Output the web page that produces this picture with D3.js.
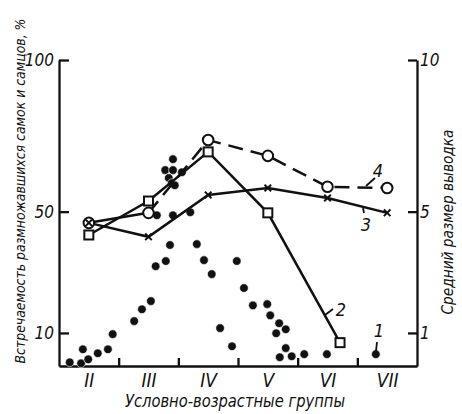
<!DOCTYPE html>
<html>
<head>
<meta charset="utf-8">
<script src="https://cdn.jsdelivr.net/npm/d3@7"></script>
<style>
  body { margin: 0; background: #fff; }
  text { font-family: "DejaVu Sans Condensed", "DejaVu Sans", sans-serif; font-stretch: condensed; font-style: oblique; fill: #111; }
</style>
</head>
<body>
<div id="chart-area"></div>
<script>
// SVG size
var width = 462,
	height = 414;

// age groups (x axis)
var groupValues = [2, 3, 4, 5, 6, 7];
var groupLabels = ["II", "III", "IV", "V", "VI", "VII"];
var groupBounds = [2.5, 3.5, 4.5, 5.5, 6.5];

// left axis (%) and right axis (brood size) ticks
var leftTicks = [10, 50, 100];
var rightTicks = [1, 5, 10];

// 1 - scattered points, % of breeding animals
var dotsX = [1.68, 1.87, 1.90, 1.99, 2.15, 2.32, 2.40, 2.76, 2.89, 3.04, 3.12, 3.29, 3.36,
	3.14, 3.41, 3.70, 3.41, 3.28, 3.41, 3.56, 3.34, 3.39, 3.44, 3.81, 3.93, 4.06, 4.20,
	4.40, 4.48, 4.60, 4.75, 4.99, 5.04, 5.19, 5.30, 5.14, 5.30, 5.20, 5.40, 5.61, 5.99, 6.81];
var dotsY = [0.3, 0.0, 4.6, 1.3, 3.3, 4.6, 9.6, 13.9, 17.8, 20.5, 32.0, 33.7, 39.0,
	48.8, 48.8, 49.8, 67.3, 63.7, 63.7, 63.0, 61.1, 59.4, 58.7, 39.3, 34.0, 29.4, 11.6,
	5.6, 33.7, 24.8, 19.1, 19.5, 15.8, 13.2, 11.2, 9.9, 5.0, 2.0, 2.3, 3.0, 3.0, 3.0];

// 2 - squares (%)
var line2X = [2, 3, 4, 5, 6.21];
var line2Y = [42.3, 53.5, 69.7, 49.6, 6.8];

// 3 - crosses, mean brood size
var line3X = [2, 3, 4, 5, 6, 7];
var line3Y = [4.63, 4.17, 5.55, 5.78, 5.45, 4.96];

// 4 - open circles (%)
var line4X = [2, 3, 4, 5, 6, 7];
var line4Y = [46.3, 49.6, 73.6, 68.4, 58.2, 57.8];

var svg = d3.select("#chart-area")
	.append("svg")
	.attr("width", width)
	.attr("height", height);

var x = d3.scaleLinear().domain([1.5, 7.5]).range([59, 417]);
var yLeft = d3.scaleLinear().domain([-0.9, 100]).range([366, 60]);
var yRight = d3.scaleLinear().domain([-0.09, 10]).range([366, 60]);

// axes
var leftAxis = d3.axisLeft(yLeft).tickValues(leftTicks).tickSizeInner(-10).tickSizeOuter(0).tickPadding(5);
var rightAxis = d3.axisRight(yRight).tickValues(rightTicks).tickSizeInner(-9).tickSizeOuter(0).tickPadding(3);
var bottomAxis = d3.axisBottom(x).tickValues(groupBounds).tickSizeInner(-8).tickSizeOuter(0).tickFormat("");
var labelAxis = d3.axisBottom(x).tickValues(groupValues).tickSize(0).tickPadding(8)
	.tickFormat(function (d, i) { return groupLabels[i]; });

var gl = svg.append("g").attr("transform", "translate(59,0)").call(leftAxis);
var gr = svg.append("g").attr("transform", "translate(417,0)").call(rightAxis);
var gb = svg.append("g").attr("transform", "translate(0,366)").call(bottomAxis);
var gx = svg.append("g").attr("transform", "translate(0,366)").call(labelAxis);
gx.select(".domain").remove();

[gl, gr, gb].forEach(function (g) {
	g.selectAll("path, line").attr("stroke", "#111").attr("stroke-width", 2.3);
	g.selectAll("text").attr("font-size", 17);
});
gx.selectAll("text").attr("font-size", 19).attr("fill", "#111");
svg.selectAll("g").attr("font-family", null);

// series 1 dots
svg.append("g").selectAll("circle").data(dotsX).enter()
	.append("circle")
	.attr("cx", function (d) { return x(d); })
	.attr("cy", function (d, i) { return yLeft(dotsY[i]); })
	.attr("r", 4.3)
	.attr("fill", "#111")
	.attr("stroke", "#fff")
	.attr("stroke-width", 0.6);

var line = function (xs, ys, sy) {
	return d3.line()
		.x(function (d, i) { return x(xs[i]); })
		.y(function (d, i) { return sy(ys[i]); })(ys);
};

// line 4 : solid II-III, dashed further
svg.append("path")
	.attr("d", line(line4X.slice(0, 2), line4Y.slice(0, 2), yLeft))
	.attr("fill", "none").attr("stroke", "#111").attr("stroke-width", 2.5);
svg.append("path")
	.attr("d", line(line4X.slice(1), line4Y.slice(1), yLeft))
	.attr("fill", "none").attr("stroke", "#111").attr("stroke-width", 2.5)
	.attr("stroke-dasharray", "15,8");

// line 3
svg.append("path")
	.attr("d", line(line3X, line3Y, yRight))
	.attr("fill", "none").attr("stroke", "#111").attr("stroke-width", 2.5);

// line 2
svg.append("path")
	.attr("d", line(line2X, line2Y, yLeft))
	.attr("fill", "none").attr("stroke", "#111").attr("stroke-width", 2.5);

// markers
svg.append("g").selectAll("rect").data(line2X).enter()
	.append("rect")
	.attr("x", function (d) { return x(d) - 4.5; })
	.attr("y", function (d, i) { return yLeft(line2Y[i]) - 4.5; })
	.attr("width", 9).attr("height", 9)
	.attr("fill", "#fff").attr("stroke", "#111").attr("stroke-width", 2);

svg.append("g").selectAll("circle").data(line4X).enter()
	.append("circle")
	.attr("cx", function (d) { return x(d); })
	.attr("cy", function (d, i) { return yLeft(line4Y[i]); })
	.attr("r", 5.3)
	.attr("fill", "#fff").attr("stroke", "#111").attr("stroke-width", 2);

svg.append("g").selectAll("path").data(line3X).enter()
	.append("path")
	.attr("transform", function (d, i) { return "translate(" + x(d) + "," + yRight(line3Y[i]) + ")"; })
	.attr("d", d3.symbol().type(d3.symbolX).size(30))
	.attr("fill", "none").attr("stroke", "#111").attr("stroke-width", 2);

// series labels with leaders
var labels = [
	{t: "1", x: 379, y: 337, lx1: 377, ly1: 342, lx2: 376, ly2: 351},
	{t: "2", x: 341, y: 316, lx1: 333, ly1: 309, lx2: 325, ly2: 315},
	{t: "3", x: 366, y: 231, lx1: 363, ly1: 208, lx2: 364, ly2: 213},
	{t: "4", x: 378, y: 177, lx1: 375, ly1: 178, lx2: 366, ly2: 186}
];
labels.forEach(function (l) {
	svg.append("line").attr("x1", l.lx1).attr("y1", l.ly1).attr("x2", l.lx2).attr("y2", l.ly2)
		.attr("stroke", "#111").attr("stroke-width", 1.8);
	svg.append("text").attr("x", l.x).attr("y", l.y).attr("text-anchor", "middle")
		.attr("font-size", 18).text(l.t);
});

// axis titles
svg.append("text")
	.attr("transform", "translate(25,191) rotate(-90)")
	.attr("text-anchor", "middle")
	.attr("font-size", 14.5)
	.attr("textLength", 345).attr("lengthAdjust", "spacingAndGlyphs")
	.text("Встречаемость размножавшихся самок и самцов, %");

svg.append("text")
	.attr("transform", "translate(453,222) rotate(-90)")
	.attr("text-anchor", "middle")
	.attr("font-size", 16)
	.attr("textLength", 185).attr("lengthAdjust", "spacingAndGlyphs")
	.text("Средний размер выводка");

svg.append("text")
	.attr("x", 235).attr("y", 407)
	.attr("text-anchor", "middle")
	.attr("font-size", 17)
	.attr("textLength", 220).attr("lengthAdjust", "spacingAndGlyphs")
	.text("Условно-возрастные группы");
</script>
</body>
</html>
